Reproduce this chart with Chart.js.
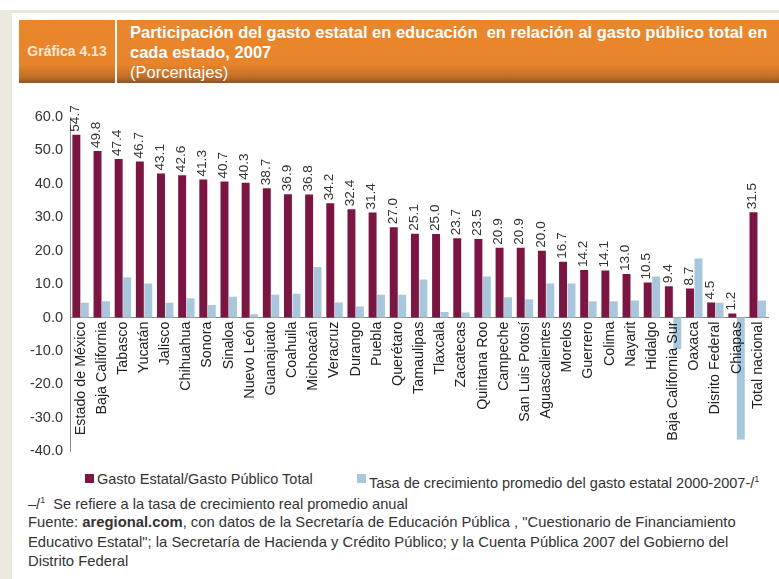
<!DOCTYPE html>
<html lang="es">
<head>
<meta charset="utf-8">
<title>Gráfica 4.13</title>
<script src="https://cdn.jsdelivr.net/npm/chart.js@4"></script>
<style>
    html, body { margin: 0; padding: 0; background: #fff; }
    body { width: 779px; height: 579px; position: relative; overflow: hidden; font-family: "Liberation Sans", Arial, sans-serif; color: #333; }
    .frame-left { position: absolute; left: 0; top: 10px; width: 12px; height: 569px; background: #ebe8de; }
    .frame-top { position: absolute; left: 0; top: 10px; width: 779px; height: 3px; background: #ebe8de; }
    .header { position: absolute; left: 19px; top: 20px; width: 760px; height: 63px;
        background: linear-gradient(to bottom, #ea872c 0%, #e8852b 70%, #c46f28 90%, #8d5426 100%); }
    .header .num { position: absolute; left: 0; top: 0; width: 96px; height: 63px; line-height: 63px; text-align: center;
        font-weight: bold; font-size: 14px; color: #fbe6d2; }
    .header .sep { position: absolute; left: 96px; top: 0; width: 2px; height: 63px; background: #fff; }
    .header .title { position: absolute; left: 111px; top: 2px; font-size: 16.5px; line-height: 20px; color: #fff; white-space: nowrap; }
    .header .title b { font-weight: bold; }
    #chart-wrap { position: absolute; left: 0; top: 88px; width: 779px; height: 379px; }
    .legend { position: absolute; top: 470px; left: 0; width: 779px; height: 18px; font-size: 14.5px; color: #333; }
    .legend .item { position: absolute; top: 0; line-height: 18px; white-space: nowrap; }
    .legend .box { position: absolute; top: 4px; width: 9px; height: 9px; }
    .footnote { position: absolute; left: 28px; top: 491px; font-size: 14.6px; line-height: 19px; color: #333; white-space: nowrap; }
    .footnote sup { font-size: 9px; }
    .source { position: absolute; left: 28px; top: 513px; width: 725px; font-size: 14.8px; line-height: 19.5px; color: #333; }
</style>
</head>
<body>
<div class="frame-left"></div>
<div class="frame-top"></div>
<div class="header">
    <div class="num">Gráfica 4.13</div>
    <div class="sep"></div>
    <div class="title"><b>Participación del gasto estatal en educación&nbsp; en relación al gasto público total en<br>cada estado, 2007</b><br>(Porcentajes)</div>
</div>
<div id="chart-wrap"><canvas id="chart"></canvas></div>
<div class="legend" id="legend"></div>
<div class="footnote">–/<sup>1</sup>&nbsp; Se refiere a la tasa de crecimiento real promedio anual</div>
<div class="source">Fuente: <b>aregional.com</b>, con datos de la Secretaría de Educación Pública , "Cuestionario de Financiamiento Educativo Estatal"; la Secretaría de Hacienda y Crédito Público; y la Cuenta Pública 2007 del Gobierno del Distrito Federal</div>

<script>
// Data
const estados = [
    'Estado de México', 'Baja California', 'Tabasco', 'Yucatán', 'Jalisco', 'Chihuahua',
    'Sonora', 'Sinaloa', 'Nuevo León', 'Guanajuato', 'Coahuila', 'Michoacán', 'Veracruz',
    'Durango', 'Puebla', 'Querétaro', 'Tamaulipas', 'Tlaxcala', 'Zacatecas', 'Quintana Roo',
    'Campeche', 'San Luis Potosí', 'Aguascalientes', 'Morelos', 'Guerrero', 'Colima',
    'Nayarit', 'Hidalgo', 'Baja California Sur', 'Oaxaca', 'Disrito Federal', 'Chiapas',
    'Total nacional'
];

const gastoEstatal = [
    54.7, 49.8, 47.4, 46.7, 43.1, 42.6, 41.3, 40.7, 40.3, 38.7, 36.9, 36.8, 34.2,
    32.4, 31.4, 27.0, 25.1, 25.0, 23.7, 23.5, 20.9, 20.9, 20.0, 16.7, 14.2, 14.1,
    13.0, 10.5, 9.4, 8.7, 4.5, 1.2, 31.5
];

// growth rate values (no labels in the original)
const tasaCrecimiento = [
    4.4, 4.9, 12.1, 10.2, 4.4, 5.8, 3.8, 6.2, 1.0, 6.8, 7.1, 15.1, 4.5,
    3.3, 6.8, 6.8, 11.4, 1.7, 1.5, 12.3, 6.1, 5.5, 10.2, 10.2, 4.9, 4.9,
    5.1, 12.3, -9.4, 17.7, 4.4, -36.5, 5.1
];

const serieNombres = [
    'Gasto Estatal/Gasto Público Total',
    'Tasa de crecimiento promedio del gasto estatal 2000-2007-/¹'
];

const yTicks = [60, 50, 40, 30, 20, 10, 0, -10, -20, -30, -40];

const RED = '#7b1643';
const BLUE = '#a8c7dc';
const FONT = '"Liberation Sans", Arial, sans-serif';

// Values above the red bars, written vertically
const barLabels = {
    id: 'barLabels',
    afterDatasetsDraw(chart) {
        const ctx = chart.ctx;
        const meta = chart.getDatasetMeta(0);
        ctx.save();
        ctx.font = '13.6px ' + FONT;
        ctx.fillStyle = '#333';
        ctx.textAlign = 'left';
        ctx.textBaseline = 'middle';
        meta.data.forEach((bar, i) => {
            ctx.save();
            ctx.translate(bar.x - 1, bar.y - 3);
            ctx.rotate(-Math.PI / 2);
            ctx.fillText(gastoEstatal[i].toFixed(1), 0, 0);
            ctx.restore();
        });
        ctx.restore();
    }
};

function buildLegend() {
    const legend = document.getElementById('legend');
    const items = [
        { left: 85, color: RED, text: serieNombres[0] },
        { left: 357, color: BLUE, text: 'Tasa de crecimiento promedio del gasto estatal 2000-2007' }
    ];
    items.forEach((it, i) => {
        const el = document.createElement('div');
        el.className = 'item';
        el.style.left = it.left + 'px';
        el.innerHTML = '<span class="box" style="left:0;background:' + it.color + '"></span>' +
            '<span style="margin-left:12px">' + it.text + (i === 1 ? '-/<sup style="font-size:9px">1</sup>' : '') + '</span>';
        legend.appendChild(el);
    });
}

function initChart() {
    const ctx = document.getElementById('chart').getContext('2d');
    new Chart(ctx, {
        type: 'bar',
        data: {
            labels: estados,
            datasets: [
                {
                    label: serieNombres[0],
                    data: gastoEstatal,
                    backgroundColor: RED,
                    categoryPercentage: 0.8,
                    barPercentage: 0.94
                },
                {
                    label: serieNombres[1],
                    data: tasaCrecimiento,
                    backgroundColor: BLUE,
                    categoryPercentage: 0.8,
                    barPercentage: 0.94
                }
            ]
        },
        options: {
            responsive: true,
            maintainAspectRatio: false,
            animation: false,
            layout: { padding: { top: 29, right: 8, bottom: 9, left: 0 } },
            plugins: {
                legend: { display: false },
                tooltip: { enabled: false }
            },
            scales: {
                x: {
                    position: { y: 0 },
                    grid: { display: false, drawTicks: false },
                    border: { display: true, color: '#8a8a8a', width: 1 },
                    ticks: {
                        z: 1, // names drawn over the bars (Chiapas)
                        autoSkip: false,
                        minRotation: 90,
                        maxRotation: 90,
                        padding: 4,
                        color: '#222',
                        font: { family: FONT, size: 14.3 }
                    }
                },
                y: {
                    min: -40,
                    max: 60,
                    afterFit(scale) { scale.width = 70; },
                    afterBuildTicks(scale) { scale.ticks = yTicks.map(v => ({ value: v })); },
                    grid: { display: false, drawTicks: false },
                    border: { display: true, color: '#8a8a8a', width: 1 },
                    ticks: {
                        padding: 7,
                        color: '#333',
                        font: { family: FONT, size: 14.5 },
                        callback: v => v.toFixed(1)
                    }
                }
            }
        },
        plugins: [barLabels]
    });
}

buildLegend();
initChart();
</script>
</body>
</html>
